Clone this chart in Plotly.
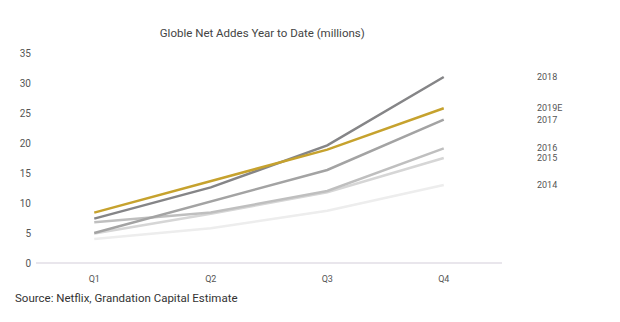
import plotly.graph_objects as go

quarters = ["Q1", "Q2", "Q3", "Q4"]
series_names = ["2014", "2015", "2016", "2017", "2018", "2019E"]
v2014 = [4.0, 5.8, 8.7, 13.0]
v2015 = [4.9, 8.2, 11.8, 17.5]
v2016 = [6.8, 8.4, 12.0, 19.1]
v2017 = [5.0, 10.2, 15.5, 23.9]
v2018 = [7.4, 12.6, 19.6, 31.0]
v2019e = [8.4, 13.7, 18.9, 25.8]
y_ticks = [0, 5, 10, 15, 20, 25, 30, 35]

values = [v2014, v2015, v2016, v2017, v2018, v2019e]
colors = ["#ededed", "#d6d6d6", "#bfbfbf", "#a3a3a3", "#858587", "#c6a22e"]

fig = go.Figure()
for name, vals, col in zip(series_names, values, colors):
    fig.add_trace(go.Scatter(x=list(range(len(quarters))), y=vals, mode="lines",
                             name=name, line=dict(color=col, width=2.5)))
    fig.add_annotation(x=len(quarters) - 1, y=vals[-1], text=name, showarrow=False,
                       xanchor="left", yanchor="middle", xshift=91,
                       font=dict(size=9, color="#555555"))

fig.add_annotation(x=-0.05, y=-0.167, xref="paper", yref="paper",
                   text="Source: Netflix, Grandation Capital Estimate",
                   showarrow=False, xanchor="left", yanchor="middle",
                   font=dict(size=11.5, color="#333333"))

fig.update_layout(
    width=620, height=322,
    margin=dict(l=36, r=118, t=53, b=59),
    paper_bgcolor="white", plot_bgcolor="white",
    showlegend=False,
    font=dict(family="Roboto, Inter, sans-serif", color="#555555"),
    title=dict(text="Globle Net Addes Year to Date (millions)", x=0.423, xanchor="center",
               y=0.897, yanchor="middle", font=dict(size=11.5, color="#444444")),
    xaxis=dict(range=[-0.5, 3.5], tickvals=list(range(len(quarters))), ticktext=quarters,
               showgrid=False, zeroline=False, showline=False, ticks="",
               tickfont=dict(size=9, color="#555555"), ticklabelstandoff=9),
    yaxis=dict(range=[0, 35], tickvals=y_ticks, showgrid=False, zeroline=True,
               zerolinecolor="#e9e6ec", zerolinewidth=1.5, showline=False, ticks="",
               tickfont=dict(size=10, color="#555555"), ticklabelstandoff=4),
)

fig.write_html("out.html")
